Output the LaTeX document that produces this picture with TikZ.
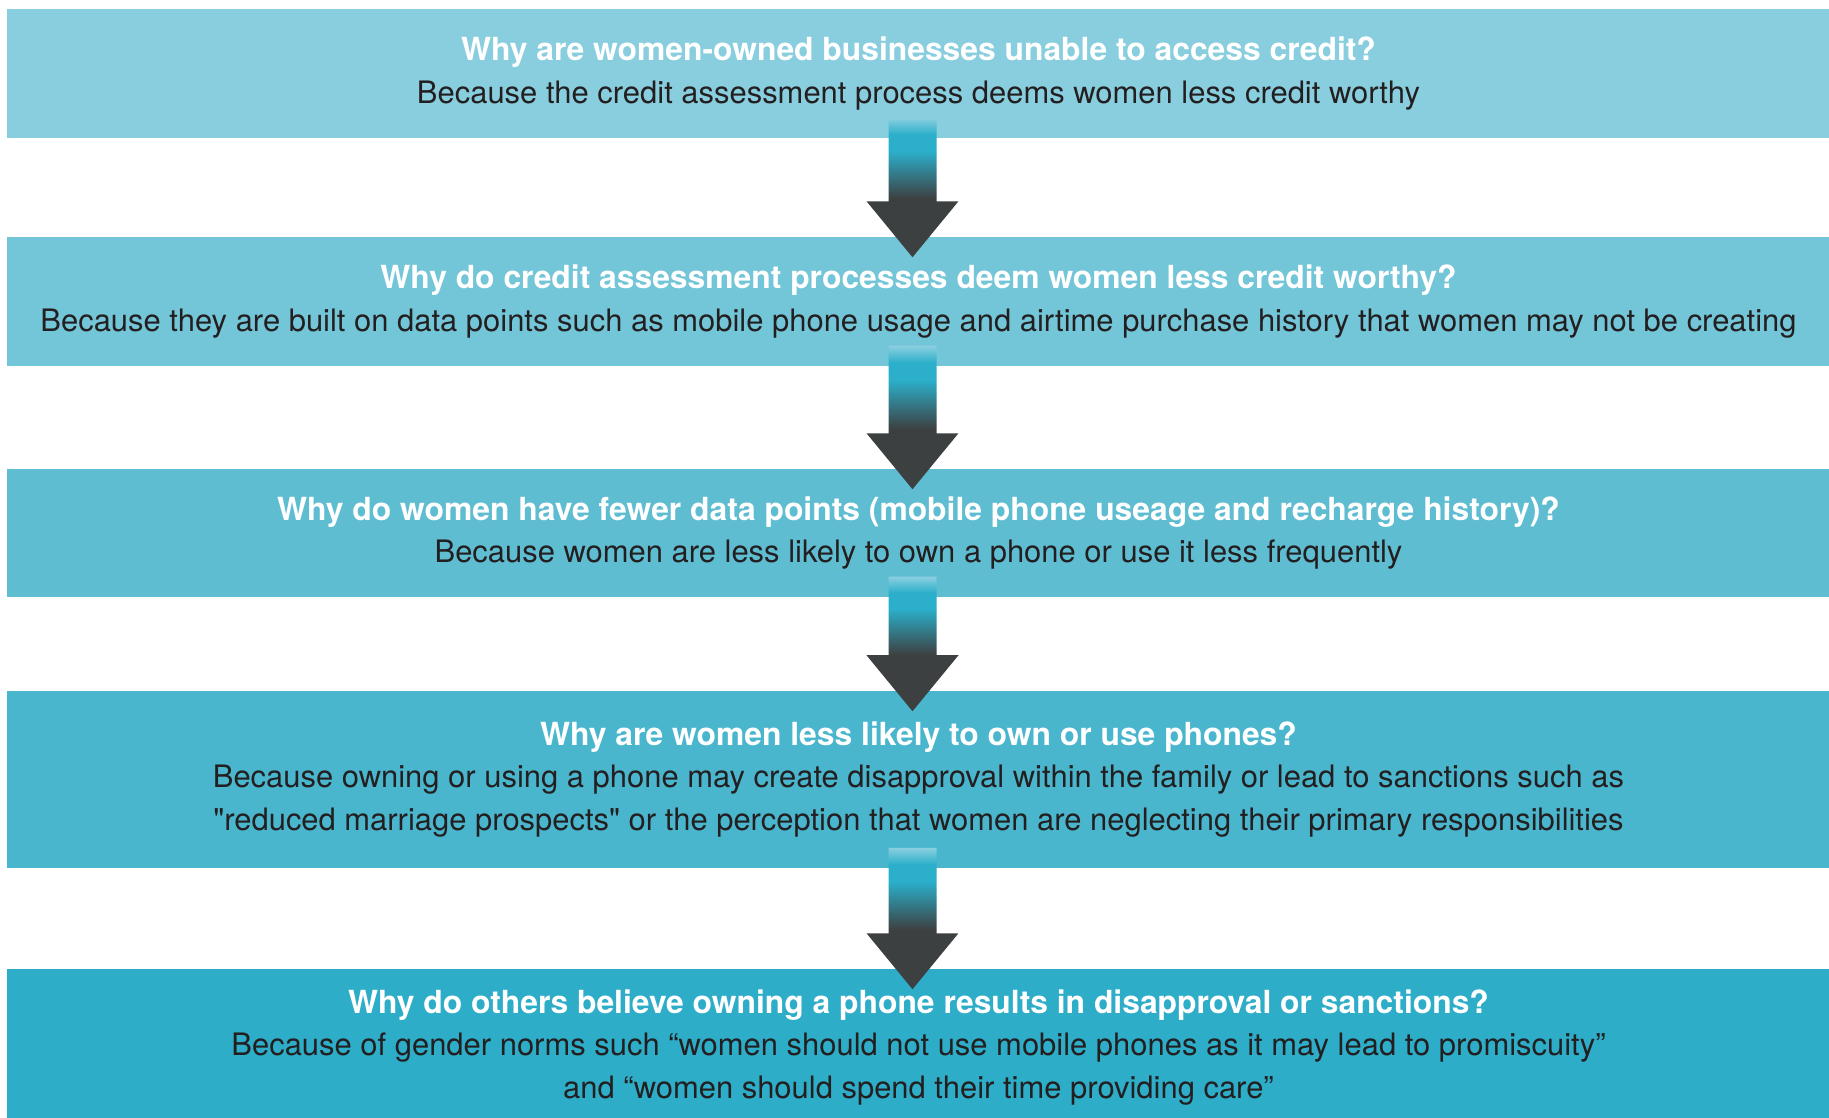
\documentclass[tikz,border=0pt]{standalone}
\usepackage{fontspec}
\setmainfont{TeX Gyre Heros}
\newfontfamily\plainquote{TeX Gyre Heros}[Ligatures=TeXOff]
\usetikzlibrary{calc}

\definecolor{whyone}{HTML}{88CEDE}
\definecolor{whytwo}{HTML}{73C5D8}
\definecolor{whythree}{HTML}{5FBDD2}
\definecolor{whyfour}{HTML}{4AB6CE}
\definecolor{whyfive}{HTML}{2DADC8}
\definecolor{bodyink}{HTML}{231F20}
\definecolor{arrowdark}{HTML}{3D4041}
\definecolor{arrowcyan}{HTML}{2BAFCA}
\definecolor{arrowlight}{HTML}{8ACFDF}

% shaft fades from the box colour to cyan, then to dark grey
\pgfdeclareverticalshading{shaftfade}{100bp}{color(0bp)=(arrowdark); color(46bp)=(arrowdark); color(63bp)=(arrowcyan); color(69bp)=(arrowcyan); color(75bp)=(arrowlight); color(100bp)=(arrowlight)}

\tikzset{
  whybox/.style 2 args={fill=#1, minimum width=18.21cm, minimum height=#2,
    inner sep=0pt, align=center, text=bodyink,
    font=\fontsize{8.8}{12.2}\selectfont},
}
\newcommand{\whyq}[1]{{\fontsize{9.05}{12.2}\selectfont\bfseries\color{white}#1}}
\newcommand{\dq}{{\plainquote"}}

% block arrow from box #1 into box #2
\newcommand{\whyarrow}[2]{%
  \coordinate (#1top) at ($(#1.south)+(-6,-21)$);
  \coordinate (#1tip) at ($(#2.north)+(-6,21)$);
  \shade[shading=shaftfade]
    ($(#1top)+(-24,0)$) |- ($(#1tip)+(-46,-56)$) -- (#1tip)
    -- ($(#1tip)+(46,-56)$) -| ($(#1top)+(24,0)$) -- cycle;
}

\begin{document}
\begin{tikzpicture}[x=0.01cm, y=-0.01cm]
    \useasboundingbox (0,0) rectangle (1829,1118);

    \node[whybox={whyone}{1.29cm}] (b1) at (918.5,73.5)
      {\whyq{Why are women-owned businesses unable to access credit?}\\
       Because the credit assessment process deems women less credit worthy};
    \node[whybox={whytwo}{1.29cm}] (b2) at (918.5,301.5)
      {\whyq{Why do credit assessment processes deem women less credit worthy?}\\
       Because they are built on data points such as mobile phone usage and airtime purchase history that women may not be creating};
    \node[whybox={whythree}{1.28cm}] (b3) at (918.5,533)
      {\whyq{Why do women have fewer data points (mobile phone useage and recharge history)?}\\
       Because women are less likely to own a phone or use it less frequently};
    \node[whybox={whyfour}{1.77cm}] (b4) at (918.5,779.5)
      {\whyq{Why are women less likely to own or use phones?}\\
       Because owning or using a phone may create disapproval within the family or lead to sanctions such as\\
       \dq reduced marriage prospects\dq{} or the perception that women are neglecting their primary responsibilities};
    \node[whybox={whyfive}{1.57cm}] (b5) at (918.5,1047.5)
      {\whyq{Why do others believe owning a phone results in disapproval or sanctions?}\\
       Because of gender norms such “women should not use mobile phones as it may lead to promiscuity”\\
       and “women should spend their time providing care”};

    \whyarrow{b1}{b2}
    \whyarrow{b2}{b3}
    \whyarrow{b3}{b4}
    \whyarrow{b4}{b5}

\end{tikzpicture}
\end{document}
